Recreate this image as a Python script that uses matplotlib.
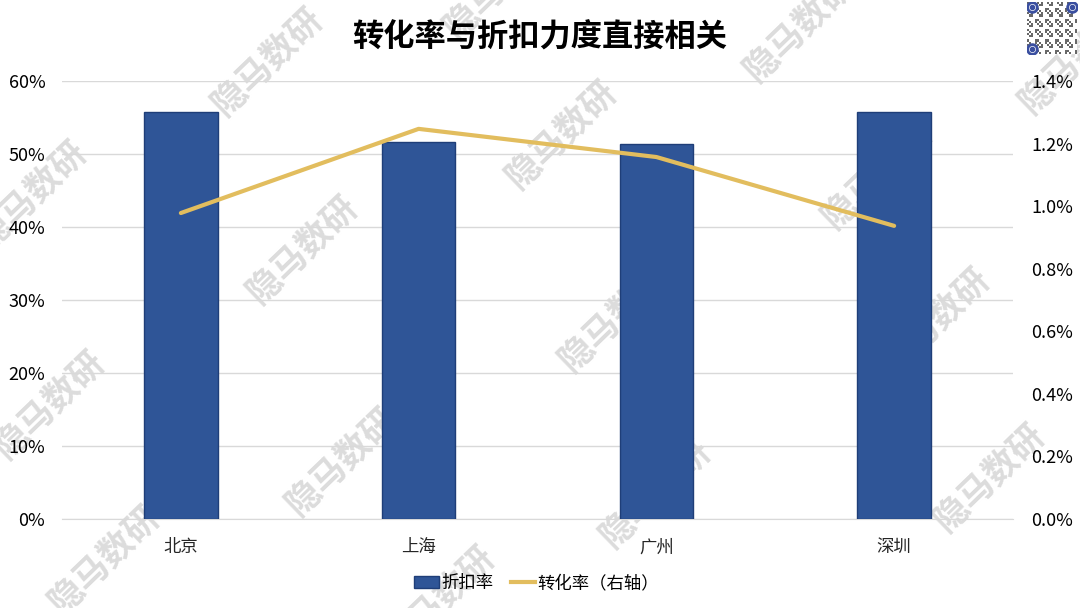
import matplotlib
matplotlib.use("Agg")
import matplotlib.pyplot as plt
from matplotlib.ticker import FuncFormatter, MultipleLocator
from matplotlib.lines import Line2D
from matplotlib.patches import Patch
import numpy as np

plt.rcParams['font.family'] = ['Noto Sans CJK SC', 'DejaVu Sans']

categories = ['北京', '上海', '广州', '深圳']
discount_rate = [0.558, 0.517, 0.514, 0.558]
conversion_rate = [0.00978, 0.01247, 0.01157, 0.00937]
title = '转化率与折扣力度直接相关'
bar_label = '折扣率'
line_label = '转化率（右轴）'
watermark = '隐马数研'

fig = plt.figure(figsize=(10.8, 6.08), dpi=100)
ax = fig.add_axes([62/1080, 1-519/608, (1013-62)/1080, (519-81)/608])
ax.patch.set_alpha(0)
x = np.arange(len(categories))
ax.bar(x, discount_rate, width=0.31, color='#2F5597', edgecolor='#1F3E78', linewidth=1, zorder=3)
ax.set_xlim(-0.5, len(categories)-0.5)
ax.set_ylim(0, 0.6)
ax.yaxis.set_major_locator(MultipleLocator(0.1))
ax.yaxis.set_major_formatter(FuncFormatter(lambda v, p: f'{v*100:.0f}%'))
ax.grid(axis='y', color='#D9D9D9', linewidth=1, zorder=0)
ax.set_xticks(x)
ax.set_xticklabels(categories)
for s in ['top', 'right', 'left']:
    ax.spines[s].set_visible(False)
ax.spines['bottom'].set_color('#D9D9D9')
ax.tick_params(axis='both', length=0, labelsize=13, colors='#000000')
ax.tick_params(axis='x', pad=14, labelcolor='#262626', labelsize=12.5)
ax.tick_params(axis='y', pad=12)

ax2 = ax.twinx()
ax2.patch.set_alpha(0)
ax2.plot(x, conversion_rate, color='#E2BD5E', linewidth=3, solid_capstyle='round', zorder=4)
ax2.set_ylim(0, 0.014)
ax2.yaxis.set_major_locator(MultipleLocator(0.002))
ax2.yaxis.set_major_formatter(FuncFormatter(lambda v, p: f'{v*100:.1f}%'))
for s in ['top', 'right', 'left', 'bottom']:
    ax2.spines[s].set_visible(False)
ax2.tick_params(axis='y', length=0, labelsize=13, colors='#000000', pad=13)

fig.text(0.5, 1-38/608, title, ha='center', va='center', fontsize=22.5, fontweight='bold', color='#000000')

handles = [Patch(facecolor='#2F5597', edgecolor='#1F3E78'),
           Line2D([0], [0], color='#E2BD5E', linewidth=3)]
fig.legend(handles, [bar_label, line_label], loc='center', bbox_to_anchor=(0.497, 1-583/608),
           ncol=2, frameon=False, fontsize=12.5, handlelength=1.4, handleheight=0.75,
           columnspacing=1.0, handletextpad=0.15)

# watermarks (behind the chart)
wm = [(268, 62), (562, 135), (878, 175), (32, 195), (303, 250), (615, 318), (935, 322),
      (50, 405), (342, 462), (656, 494), (990, 478), (105, 560), (800, 28), (500, -15),
      (440, 600), (1075, 60)]
for (px, py) in wm:
    fig.text(px/1080, 1-py/608, watermark, rotation=44, ha='center', va='center',
             fontsize=25, fontweight='bold', color='#DCDCDC', zorder=-1)

# QR code decoration
qax = fig.add_axes([1027/1080, 1-54/608, 50/1080, 52/608])
n = 25
grid_pat = np.array([[1 if ((i * 7 + j * 13 + i * j) % 5) < 2 else 0 for j in range(n)] for i in range(n)])
qax.imshow(grid_pat, cmap='Greys', interpolation='nearest', vmin=0, vmax=1.5, aspect='auto')
for (cx, cy) in [(1.8, 1.8), (n-2.8, 1.8), (1.8, n-2.8)]:
    qax.plot(cx, cy, 'o', ms=7, mfc='#FFFFFF', mec='#3A4FA0', mew=2)
    qax.plot(cx, cy, 'o', ms=3, color='#3A4FA0')
qax.set_xlim(-0.5, n-0.5)
qax.set_ylim(n-0.5, -0.5)
qax.axis('off')

fig.savefig('out.png', dpi=100)
